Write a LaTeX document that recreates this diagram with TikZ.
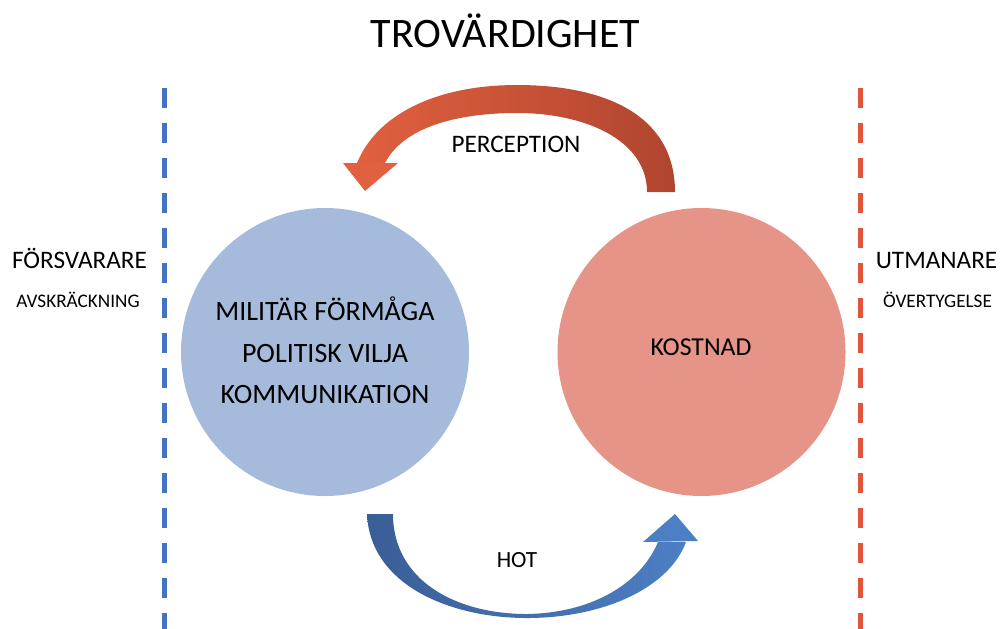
\documentclass[tikz,border=0pt]{standalone}
\usepackage{fontspec}
\setmainfont{Carlito}
\begin{document}
\begin{tikzpicture}[x=0.5pt,y=-0.5pt,
  circ/.style={circle,minimum size=144pt,inner sep=0pt},
  bigtxt/.style={anchor=base,font=\fontsize{12.6}{14}\selectfont},
  circtxt/.style={anchor=base,font=\fontsize{14}{16}\selectfont},
  smalltxt/.style={anchor=base,font=\fontsize{9.6}{11}\selectfont},
  dashline/.style={line width=2.5pt,dash pattern=on 10pt off 7.5pt}]
\definecolor{cblue}{HTML}{A6BBDB}
\definecolor{cred}{HTML}{E59487}
\definecolor{dblue}{HTML}{4472C4}
\definecolor{dred}{HTML}{E0553C}
\definecolor{arL}{HTML}{E0603F}
\definecolor{arR}{HTML}{B0452F}
\definecolor{abL}{HTML}{3A5E96}
\definecolor{abR}{HTML}{4C7FC3}
\useasboundingbox (0,0) rectangle (1000,628);
\fill[white] (0,0) rectangle (1000,628);
% dashed separators
\coordinate (bt) at (164,88); \coordinate (bb) at (164,640);
\coordinate (rt) at (860,88); \coordinate (rb) at (860,640);
\draw[dashline,dblue] (bt) -- (bb);
\draw[dashline,dred] (rt) -- (rb);
% circles
\node[circ,fill=cblue] (def) at (325,352) {};
\node[circ,fill=cred] (cost) at (701.5,352) {};
% circle texts
\node[circtxt] (t1) at (325,320) {MILITÄR FÖRMÅGA};
\node[circtxt] (t2) at (325,362) {POLITISK VILJA};
\node[circtxt] (t3) at (325,403) {KOMMUNIKATION};
\node[bigtxt,font=\fontsize{12.9}{14}\selectfont] (t4) at (701,355) {KOSTNAD};
% title and side labels
\node[anchor=base,font=\fontsize{21}{24}\selectfont] (title) at (505.5,47) {TROVÄRDIGHET};
\node[bigtxt] (fors) at (79.5,268) {FÖRSVARARE};
\node[smalltxt] (avsk) at (78,307) {AVSKRÄCKNING};
\node[bigtxt] (utm) at (936.5,268) {UTMANARE};
\node[smalltxt] (overt) at (937.5,307) {ÖVERTYGELSE};
% top curved arrow (perception)
\shade[left color=arL,right color=arR]
  (675,192) .. controls (675,115) and (605,85) .. (517,85)
  .. controls (440,85) and (378,112) .. (357,163)
  -- (385,163) .. controls (403,128) and (455,113) .. (517,113)
  .. controls (585,113) and (647,140) .. (647,192) -- cycle;
\fill[arL] (343,163) -- (398,163) -- (365,191) -- cycle;
\node[bigtxt] (perc) at (516,152) {PERCEPTION};
% bottom curved arrow (hot)
\shade[left color=abL,right color=abR]
  (367,514) .. controls (370,585) and (450,618) .. (527,618)
  .. controls (600,618) and (668,590) .. (686,542)
  -- (658,542) .. controls (640,585) and (590,613) .. (527,614)
  .. controls (455,614) and (393,580) .. (393,514) -- cycle;
\fill[abR] (643,542) -- (698,541) -- (675,514) -- cycle;
\node[bigtxt,font=\fontsize{11.6}{13}\selectfont] (hot) at (517,567) {HOT};
\end{tikzpicture}
\end{document}
